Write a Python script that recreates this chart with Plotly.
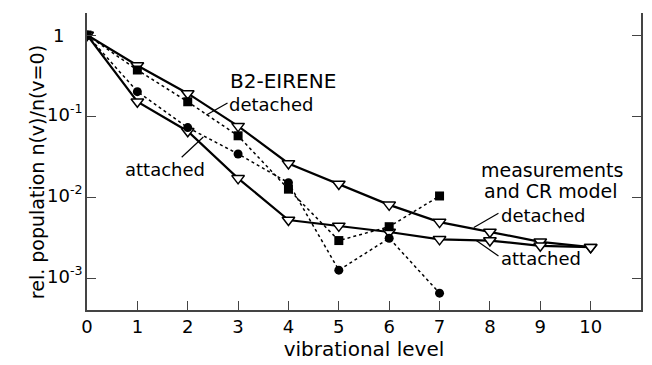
import math
import plotly.graph_objects as go

# ---------------- data ----------------
levels_meas = [0, 1, 2, 3, 4, 5, 6, 7, 8, 9, 10]
meas_detached = [1.0, 0.42, 0.19, 0.075, 0.026, 0.0145, 0.0080, 0.0049, 0.0037, 0.0028, 0.0024]
meas_attached = [1.0, 0.15, 0.065, 0.017, 0.0052, 0.0044, 0.0037, 0.0030, 0.0029, 0.0025, 0.0024]

levels_b2 = [0, 1, 2, 3, 4, 5, 6, 7]
b2_detached = [1.0, 0.37, 0.15, 0.057, 0.0125, 0.0029, 0.0043, 0.0103]
b2_attached = [1.0, 0.20, 0.072, 0.034, 0.015, 0.00125, 0.0031, 0.00065]

x_ticks = [0, 1, 2, 3, 4, 5, 6, 7, 8, 9, 10]
x_top_ticks = [2, 4, 6, 8, 10]
y_ticks = [0.001, 0.01, 0.1, 1]
y_tick_text = ["10<sup>-3</sup>", "10<sup>-2</sup>", "10<sup>-1</sup>", "1"]

# leader lines (data coords)
lead_b2_det_x = [2.79, 2.37]
lead_b2_det_y = [0.145, 0.103]
lead_b2_att_x = [1.88, 2.31]
lead_b2_att_y = [0.031, 0.055]
lead_m_det_x = [8.17, 7.68]
lead_m_det_y = [0.0063, 0.0042]
lead_m_att_x = [8.17, 7.73]
lead_m_att_y = [0.00187, 0.0029]

FONT = "DejaVu Sans"
W, H = 652, 365
ML, MR, MT, MB = 87, 9, 13, 55

def px2paper(px, py):
    return (px - ML) / (W - ML - MR), (H - MB - py) / (H - MT - MB)

fig = go.Figure()

# measurements and CR model (solid, open triangles)
for yv in (meas_detached, meas_attached):
    fig.add_trace(go.Scatter(
        x=levels_meas, y=yv, mode="lines+markers",
        line=dict(color="black", width=2.2),
        marker=dict(symbol="triangle-down", size=11, color="white",
                    line=dict(color="black", width=1.5)),
        showlegend=False))

# B2-EIRENE (dotted)
fig.add_trace(go.Scatter(
    x=levels_b2, y=b2_detached, mode="lines+markers",
    line=dict(color="black", width=1.5, dash="dot"),
    marker=dict(symbol="square", size=9, color="black"),
    showlegend=False))
fig.add_trace(go.Scatter(
    x=levels_b2, y=b2_attached, mode="lines+markers",
    line=dict(color="black", width=1.5, dash="dot"),
    marker=dict(symbol="circle", size=9, color="black"),
    showlegend=False))

# leader lines
for lx, ly in ((lead_b2_det_x, lead_b2_det_y), (lead_b2_att_x, lead_b2_att_y),
               (lead_m_det_x, lead_m_det_y), (lead_m_att_x, lead_m_att_y)):
    fig.add_trace(go.Scatter(x=lx, y=ly, mode="lines",
                             line=dict(color="black", width=1.2),
                             showlegend=False, hoverinfo="skip"))

def label(text, px, py, size=19):
    x, y = px2paper(px, py)
    fig.add_annotation(text=text, x=x, y=y, xref="paper", yref="paper",
                       xanchor="left", yanchor="middle", showarrow=False,
                       font=dict(family=FONT, size=size, color="black"))

label("B2-EIRENE", 229, 81, 20)
label("detached", 228, 104, 18)
label("attached", 123, 170, 18)
label("measurements", 480, 170, 19)
label("and CR model", 483, 191, 19)
label("detached", 500, 215, 18)
label("attached", 500, 258, 18)

# y tick labels placed on the y axis scale
for val, txt in zip(y_ticks, y_tick_text):
    if txt == "1":
        xa, anchor, ys = px2paper(58.5, 0)[0], "center", 0
    else:
        xa, anchor, ys = px2paper(84, 0)[0], "right", 3
    fig.add_annotation(text=txt, x=xa, y=math.log10(val), xref="paper", yref="y",
                       xanchor=anchor, yanchor="middle", showarrow=False, yshift=ys,
                       font=dict(family=FONT, size=18, color="black"))

# y-axis title
yx, yy = px2paper(37, 172)
fig.add_annotation(text="rel. population n(v)/n(v=0)", x=yx, y=yy,
                   xref="paper", yref="paper", textangle=-90,
                   xanchor="center", yanchor="middle", showarrow=False,
                   font=dict(family=FONT, size=19, color="black"))

fig.update_layout(
    width=W, height=H,
    margin=dict(l=ML, r=MR, t=MT, b=MB, pad=0),
    paper_bgcolor="white", plot_bgcolor="white",
    font=dict(family=FONT, size=18, color="black"),
    xaxis=dict(range=[0, 11], tickvals=x_ticks, ticks="inside", ticklen=9,
               tickwidth=1.3, tickcolor="#444", showline=True, linecolor="#444",
               linewidth=1.5, showgrid=False, zeroline=False, mirror=False,
               title=dict(text="vibrational level", font=dict(size=20), standoff=4),
               tickfont=dict(size=18)),
    xaxis2=dict(range=[0, 11], overlaying="x", side="top", anchor="y",
                tickvals=x_top_ticks, ticks="inside", ticklen=9, tickwidth=1.3,
                tickcolor="#555", showline=True, linecolor="#999", linewidth=1.5,
                showticklabels=False, showgrid=False, zeroline=False),
    yaxis=dict(type="log", range=[-3.395, 0.272], tickvals=y_ticks,
               ticks="inside", ticklen=9, tickwidth=1.3,
               tickcolor="#444", showline=True, linecolor="#444", linewidth=1.5,
               mirror="ticks", showgrid=False, zeroline=False,
               showticklabels=False),
)

fig.write_html("out.html")
